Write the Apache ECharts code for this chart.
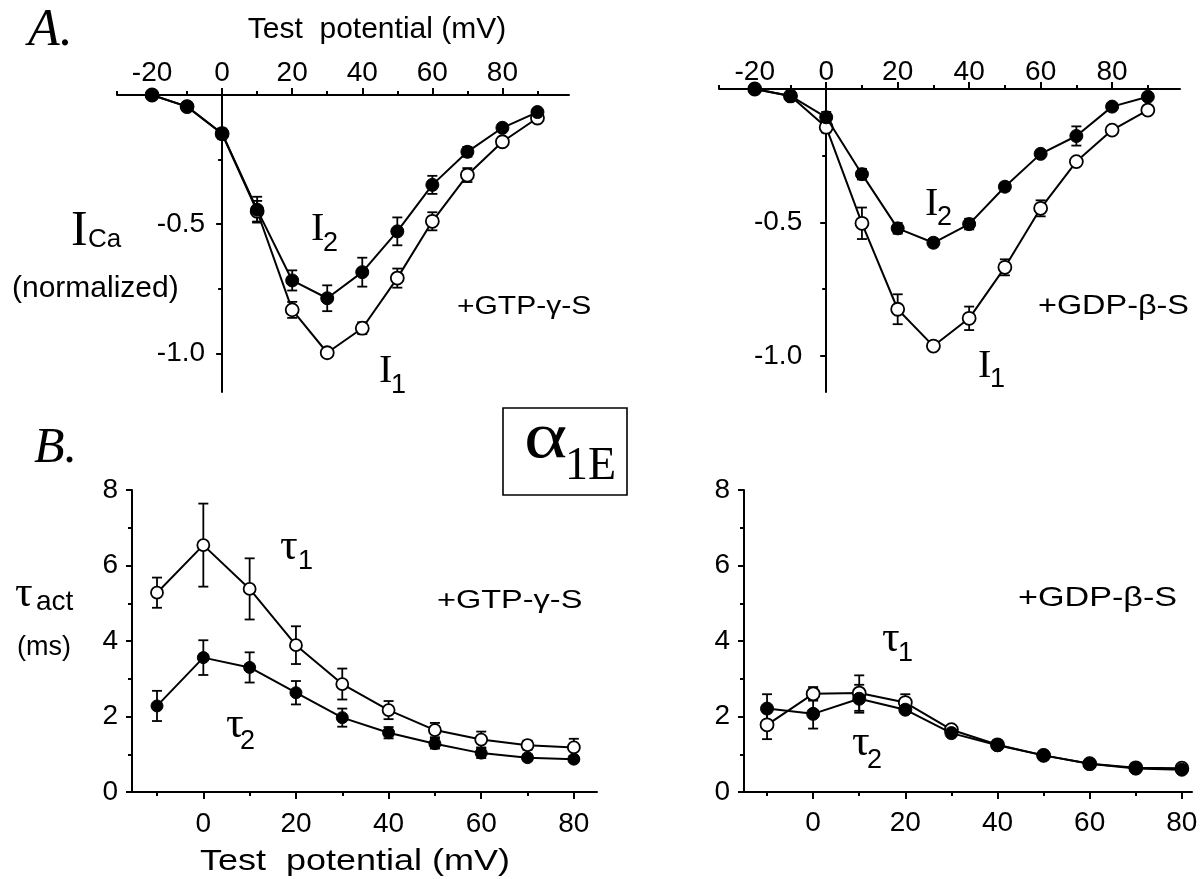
<!DOCTYPE html>
<html>
<head>
<meta charset="utf-8">
<script src="https://cdn.jsdelivr.net/npm/echarts@6/dist/echarts.min.js"></script>
<style>
html,body{margin:0;padding:0;background:#fff;}
#chart{width:1204px;height:879px;}
</style>
</head>
<body>
<div id="chart"></div>
<script>
// ---------------- data ----------------
const vTop = [-20, -10, 0, 10, 20, 30, 40, 50, 60, 70, 80, 90];
const gtpI1 = [0, -0.045, -0.15, -0.45, -0.832, -0.998, -0.903, -0.709, -0.489, -0.31, -0.181, -0.089];
const gtpI1Err = [0, 0, 0.02, 0.04, 0.031, 0.006, 0.023, 0.037, 0.035, 0.027, 0.01, 0.01];
const gtpI2 = [0, -0.045, -0.149, -0.444, -0.718, -0.787, -0.686, -0.528, -0.348, -0.22, -0.127, -0.066];
const gtpI2Err = [0, 0, 0.01, 0.05, 0.039, 0.05, 0.056, 0.054, 0.035, 0.019, 0.012, 0.01];

const gdpI1 = [0, -0.026, -0.143, -0.503, -0.825, -0.963, -0.859, -0.668, -0.447, -0.272, -0.154, -0.079];
const gdpI1Err = [0, 0, 0.02, 0.059, 0.056, 0.008, 0.044, 0.03, 0.03, 0.01, 0.01, 0.01];
const gdpI2 = [0, -0.026, -0.106, -0.319, -0.522, -0.576, -0.506, -0.366, -0.243, -0.176, -0.066, -0.029];
const gdpI2Err = [0, 0, 0.02, 0.02, 0.02, 0.015, 0.02, 0.015, 0.01, 0.036, 0.01, 0.01];

const vBot = [-10, 0, 10, 20, 30, 40, 50, 60, 70, 80];
const gtpTau1 = [5.28, 6.54, 5.38, 3.89, 2.86, 2.17, 1.64, 1.39, 1.24, 1.18];
const gtpTau1Err = [0.40, 1.1, 0.81, 0.50, 0.41, 0.24, 0.19, 0.21, 0.12, 0.23];
const gtpTau2 = [2.28, 3.56, 3.30, 2.63, 1.97, 1.57, 1.28, 1.03, 0.91, 0.87];
const gtpTau2Err = [0.40, 0.46, 0.40, 0.31, 0.24, 0.15, 0.13, 0.13, 0.08, 0.08];

const gdpTau1 = [1.78, 2.60, 2.62, 2.37, 1.65, 1.25, 0.97, 0.75, 0.64, 0.63];
const gdpTau1Err = [0.38, 0.18, 0.47, 0.22, 0.08, 0.06, 0.05, 0.05, 0.04, 0.04];
const gdpTau2 = [2.21, 2.07, 2.47, 2.18, 1.56, 1.24, 0.97, 0.75, 0.62, 0.59];
const gdpTau2Err = [0.38, 0.39, 0.37, 0.08, 0.08, 0.06, 0.05, 0.05, 0.04, 0.04];

const topXMajor = [-20, 0, 20, 40, 60, 80];
const topXMinor = [-30, -10, 10, 30, 50, 70, 90];
const topYMajor = [-1.0, -0.5];
const topYMinor = [-0.75, -0.25];
const botXMajor = [0, 20, 40, 60, 80];
const botXMinor = [-10, 10, 30, 50, 70];
const botYMajor = [0, 2, 4, 6, 8];
const botYMinor = [1, 3, 5, 7];

// ---------------- helpers ----------------
const SANS = '"Liberation Sans", Arial, sans-serif';
const SERIF = '"Liberation Serif", "Times New Roman", serif';
const BLACK = '#000';

function pairs(xs, ys) { return xs.map((x, i) => [x, ys[i]]); }
function triples(xs, ys, es) { return xs.map((x, i) => [x, ys[i], es[i]]); }

function errRender(params, api) {
  const x = api.value(0), y = api.value(1), e = api.value(2);
  if (!e) return null;
  const t = api.coord([x, y + e]);
  const b = api.coord([x, y - e]);
  const hw = 5;
  const st = { stroke: BLACK, lineWidth: 1.8 };
  return {
    type: 'group',
    children: [
      { type: 'line', shape: { x1: t[0], y1: t[1], x2: b[0], y2: b[1] }, style: st },
      { type: 'line', shape: { x1: t[0] - hw, y1: t[1], x2: t[0] + hw, y2: t[1] }, style: st },
      { type: 'line', shape: { x1: b[0] - hw, y1: b[1], x2: b[0] + hw, y2: b[1] }, style: st }
    ]
  };
}

const grids = [
  { left: 117, top: 95, width: 452, height: 297 },
  { left: 719, top: 89, width: 461, height: 303 },
  { left: 132, top: 490, width: 465, height: 302 },
  { left: 744, top: 490, width: 448, height: 302 }
];

const panels = [
  { xMin: -30, xMax: 99, yMin: -1.15, yMax: 0, top: true, xMargin: 8, yMargin: 17, fs: 28 },
  { xMin: -30, xMax: 99, yMin: -1.135, yMax: 0, top: true, xMargin: 3, yMargin: 24, fs: 28 },
  { xMin: -15.4, xMax: 85, yMin: 0, yMax: 8, top: false, xMargin: 18, yMargin: 14, fs: 28 },
  { xMin: -15, xMax: 82.2, yMin: 0, yMax: 8, top: false, xMargin: 17, yMargin: 14, fs: 28 }
];

const xAxes = [], yAxes = [];
panels.forEach((p, i) => {
  const g = grids[i];
  const xMaj = p.top ? topXMajor : botXMajor;
  const xMin = p.top ? topXMinor : botXMinor;
  const yMaj = p.top ? topYMajor : botYMajor;
  const yMin = p.top ? topYMinor : botYMinor;
  // in the top panels the y axis crosses the x axis at 0 mV
  const yOffset = p.top ? -g.width * (0 - p.xMin) / (p.xMax - p.xMin) : 0;
  const lbl = { color: BLACK, fontFamily: SANS, fontSize: p.fs };
  xAxes.push({
    gridIndex: i, type: 'value', min: p.xMin, max: p.xMax,
    position: p.top ? 'top' : 'bottom',
    axisLine: { show: true, onZero: false, lineStyle: { color: BLACK, width: 2 } },
    axisTick: { show: true, customValues: xMaj, length: 7, lineStyle: { color: BLACK, width: 2 } },
    axisLabel: { show: true, customValues: xMaj, margin: p.xMargin, ...lbl },
    splitLine: { show: false }
  });
  xAxes.push({
    gridIndex: i, type: 'value', min: p.xMin, max: p.xMax,
    position: p.top ? 'top' : 'bottom',
    axisLine: { show: false, onZero: false },
    axisTick: { show: true, customValues: xMin, length: 4, lineStyle: { color: BLACK, width: 2 } },
    axisLabel: { show: false },
    splitLine: { show: false }
  });
  yAxes.push({
    gridIndex: i, type: 'value', min: p.yMin, max: p.yMax, position: 'left', offset: yOffset,
    axisLine: { show: true, onZero: false, lineStyle: { color: BLACK, width: 2 } },
    axisTick: { show: true, customValues: yMaj, length: 6, lineStyle: { color: BLACK, width: 2 } },
    axisLabel: { show: true, customValues: yMaj, margin: p.yMargin,
      formatter: v => p.top ? v.toFixed(1) : String(v), ...lbl },
    splitLine: { show: false }
  });
  yAxes.push({
    gridIndex: i, type: 'value', min: p.yMin, max: p.yMax, position: 'left', offset: yOffset,
    axisLine: { show: false, onZero: false },
    axisTick: { show: true, customValues: yMin, length: 4, lineStyle: { color: BLACK, width: 2 } },
    axisLabel: { show: false },
    splitLine: { show: false }
  });
});

const series = [];
function addPanel(i, xs, open, openErr, filled, filledErr, size) {
  const ax = { xAxisIndex: 2 * i, yAxisIndex: 2 * i };
  series.push({ type: 'custom', ...ax, renderItem: errRender, data: triples(xs, open, openErr), z: 1, silent: true });
  series.push({ type: 'custom', ...ax, renderItem: errRender, data: triples(xs, filled, filledErr), z: 1, silent: true });
  series.push({
    type: 'line', ...ax, data: pairs(xs, open), z: 2,
    symbol: 'circle', symbolSize: size, showAllSymbol: true,
    lineStyle: { color: BLACK, width: 2 },
    itemStyle: { color: '#fff', borderColor: BLACK, borderWidth: 1.8 }
  });
  series.push({
    type: 'line', ...ax, data: pairs(xs, filled), z: 3,
    symbol: 'circle', symbolSize: size, showAllSymbol: true,
    lineStyle: { color: BLACK, width: 2 },
    itemStyle: { color: BLACK, borderColor: BLACK, borderWidth: 1 }
  });
}
addPanel(0, vTop, gtpI1, gtpI1Err, gtpI2, gtpI2Err, 13);
addPanel(1, vTop, gdpI1, gdpI1Err, gdpI2, gdpI2Err, 13);
addPanel(2, vBot, gtpTau1, gtpTau1Err, gtpTau2, gtpTau2Err, 12);
addPanel(3, vBot, gdpTau1, gdpTau1Err, gdpTau2, gdpTau2Err, 13);

// text helper: y is the visual centre of caps ('c') or x-height ('x')
function T(text, x, y, fs, opt) {
  opt = opt || {};
  const serif = !!opt.serif;
  const kind = opt.kind || 'c';
  let dy;
  if (serif) dy = kind === 'c' ? 0.026 * fs : -0.075 * fs;
  else dy = kind === 'c' ? 0.05 * fs : -0.05 * fs;
  return {
    type: 'text', x: x, y: y + dy, scaleX: opt.sx || 1, z: 10,
    style: {
      text: text,
      font: (opt.italic ? 'italic ' : '') + fs + 'px ' + (serif ? SERIF : SANS),
      fill: BLACK,
      align: opt.align || 'left',
      verticalAlign: 'middle'
    }
  };
}

const graphics = [
  T('A.', 28, 30, 52, { serif: true, italic: true }),
  T('B.', 34, 448, 50, { serif: true, italic: true }),
  T('Test  potential (mV)', 377, 28, 30, { align: 'center' }),
  T('Test  potential (mV)', 355, 860, 30, { align: 'center', sx: 1.2 }),
  T('I', 71, 230.5, 50, { serif: true }),
  T('Ca', 88, 239, 26),
  T('(normalized)', 12, 287, 30),
  T('τ', 15, 598, 44, { serif: true, kind: 'x' }),
  T('act', 36, 604, 28, { kind: 'x' }),
  T('(ms)', 17, 646, 27),
  // top-left labels
  T('I', 311, 228.5, 40, { serif: true }),
  T('2', 323, 242.5, 27),
  T('I', 379, 370, 40, { serif: true }),
  T('1', 391, 384, 27),
  T('+GTP-γ-S', 457, 306, 25, { sx: 1.2 }),
  // top-right labels
  T('I', 925, 203, 40, { serif: true }),
  T('2', 937, 216, 27),
  T('I', 978, 365, 40, { serif: true }),
  T('1', 990, 378, 27),
  T('+GDP-β-S', 1038, 305, 27, { sx: 1.2 }),
  // bottom-left labels
  T('τ', 280, 551, 44, { serif: true, kind: 'x' }),
  T('1', 298, 560, 27),
  T('τ', 226, 729, 44, { serif: true, kind: 'x' }),
  T('2', 240, 740, 27),
  T('+GTP-γ-S', 437, 600, 26, { sx: 1.25 }),
  // bottom-right labels
  T('τ', 882, 643, 44, { serif: true, kind: 'x' }),
  T('1', 898, 652, 27),
  T('τ', 852, 747, 44, { serif: true, kind: 'x' }),
  T('2', 867, 759, 27),
  T('+GDP-β-S', 1018, 597, 28, { sx: 1.22 }),
  // alpha box
  { type: 'rect', z: 10, shape: { x: 503, y: 408, width: 124, height: 87 },
    style: { fill: 'none', stroke: BLACK, lineWidth: 1.6 } },
  T('α', 524, 445, 66, { serif: true, kind: 'x', sx: 1.25 }),
  T('1E', 565, 466, 46, { serif: true })
];

const chart = echarts.init(document.getElementById('chart'), null, { renderer: 'canvas' });
chart.setOption({
  animation: false,
  backgroundColor: '#fff',
  grid: grids.map(g => ({ ...g, containLabel: false, outerBoundsMode: 'none' })),
  xAxis: xAxes,
  yAxis: yAxes,
  series: series,
  graphic: graphics
});
</script>
</body>
</html>
